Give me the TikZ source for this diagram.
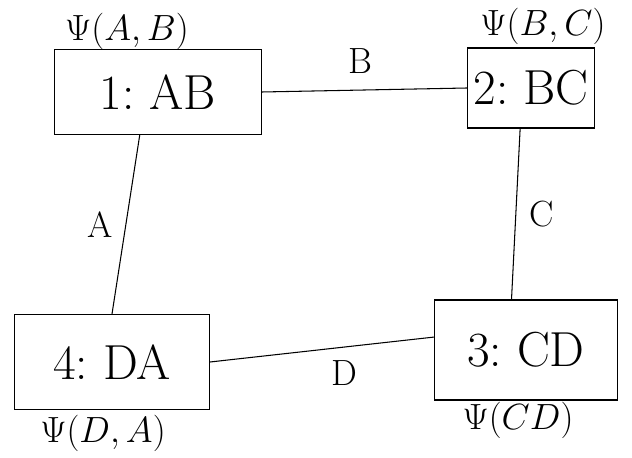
\documentclass[tikz,border=0pt]{standalone}
\usepackage{amsmath}
\usepackage{tikz}
\usetikzlibrary{positioning}

\begin{document}
\begin{tikzpicture}[
  factor/.style={draw, rectangle, semithick, font=\fontsize{28}{30}\selectfont},
  pot/.style={font=\fontsize{21}{23}\selectfont},
  sep/.style={font=\huge}
]
\useasboundingbox (0,0) rectangle (12.64,-9.16);

% cluster nodes
\node[factor, minimum width=4.14cm, minimum height=1.7cm] (f1) at (3.16,-1.84) {1:\ AB};
\node[factor, minimum width=2.36cm, minimum height=1.6cm] (f2) at (10.62,-1.76) {2:\ BC};
\node[factor, minimum width=3.66cm, minimum height=2.0cm] (f3) at (10.52,-7.0) {3:\ CD};
\node[factor, minimum width=3.9cm, minimum height=1.9cm] (f4) at (2.24,-7.24) {4:\ DA};

% potentials
\node[pot] (p1) at (2.54,-0.62) {$\Psi(A,B)$};
\node[pot] (p2) at (10.86,-0.52) {$\Psi(B,C)$};
\node[pot] (p3) at (10.36,-8.4) {$\Psi(CD)$};
\node[pot] (p4) at (2.06,-8.66) {$\Psi(D,A)$};

% separators
\draw[semithick] (f1.east) -- node[sep, above=6pt, pos=0.48] {B} (f2.west);
\draw[semithick] (f1.247) -- node[sep, left=4pt] {A} (f4.north);
\draw[semithick] (f2.255) -- node[sep, right=4pt] {C} (f3.106);
\draw[semithick] (f4.east) -- node[sep, below=4pt, pos=0.6] {D} (f3.172);
\end{tikzpicture}
\end{document}
